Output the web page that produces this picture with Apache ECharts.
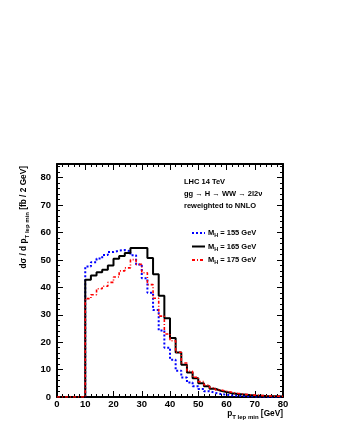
<!DOCTYPE html>
<html>
<head>
<meta charset="utf-8">
<script src="https://cdn.jsdelivr.net/npm/echarts@6/dist/echarts.min.js"></script>
<style>html,body{margin:0;padding:0;background:#fff}#c{width:340px;height:440px}</style>
</head>
<body>
<div id="c"></div>
<script>
// bin lower edges (GeV), bin width 2 GeV, histograms end at 80 GeV
const binEdges = [10,12,14,16,18,20,22,24,26,28,30,32,34,36,38,40,42,44,46,48,50,52,54,56,58,60,62,64,66,68,70,72,74,76,78];
const upperEdge = 80;
const seriesNames = ['M_H = 155 GeV', 'M_H = 165 GeV', 'M_H = 175 GeV'];
const mh155 = [47.6,49.2,50.5,51.8,52.9,53.4,53.6,53.2,51.7,48.3,43.3,38.0,31.7,24.3,18.0,13.6,9.6,7.1,5.3,3.9,2.9,2.1,1.5,1.1,0.8,0.6,0.45,0.35,0.28,0.22,0.18,0.14,0.11,0.09,0.07];
const mh165 = [42.8,44.3,45.5,46.4,48.0,50.4,51.4,52.5,54.4,54.4,54.4,50.7,44.8,36.9,28.7,21.5,16.2,11.8,8.9,6.8,5.0,3.9,3.0,2.3,1.8,1.4,1.1,0.9,0.7,0.55,0.45,0.35,0.3,0.25,0.2];
const mh175 = [35.9,37.3,39.5,40.4,41.8,43.8,46.0,47.1,50.1,48.4,45.3,41.0,36.0,29.5,23.0,20.5,16.3,12.4,9.4,7.2,5.6,4.4,3.4,2.6,2.1,1.7,1.35,1.05,0.85,0.7,0.55,0.45,0.37,0.3,0.25];
const xTicks = [0,10,20,30,40,50,60,70,80];
const yTicks = [0,10,20,30,40,50,60,70,80];

function histPoints(vals){
  const pts = [[0,0]];
  binEdges.forEach((e,i)=>pts.push([e, vals[i]]));
  pts.push([upperEdge, vals[vals.length-1]]);
  return pts;
}
const FONT = '"Liberation Sans", Arial, Helvetica, sans-serif';
const rich = {
  m:{fontSize:7.5, fontWeight:'bold', fontFamily:FONT, color:'#000', lineHeight:11, verticalAlign:'middle'},
  s:{fontSize:5.5, fontWeight:'bold', fontFamily:FONT, color:'#000', lineHeight:5, verticalAlign:'bottom'}
};
const richT = {
  m:{fontSize:8.3, fontWeight:'bold', fontFamily:FONT, color:'#000', lineHeight:12, verticalAlign:'middle'},
  s:{fontSize:6, fontWeight:'bold', fontFamily:FONT, color:'#000', lineHeight:5, verticalAlign:'bottom'}
};
function legendRich(name){
  const parts = name.split(' = ');
  return '{m|M}{s|H}{m| = ' + parts[1] + '}';
}

const axisCommon = (pos, showLabels, isX) => ({
  type:'value', position:pos, min:0, max: isX ? 80 : 85, interval:10,
  axisLine:{show:true, onZero:false, lineStyle:{color:'#000', width:2}},
  axisTick:{show:true, inside:true, length:6, lineStyle:{color:'#000', width:1}},
  minorTick:{show:true, splitNumber:5, length:3, lineStyle:{color:'#000', width:1}},
  splitLine:{show:false},
  axisLabel:{show:showLabels, color:'#000', fontSize:9.5, fontWeight:'bold', fontFamily:FONT, margin: isX?2:6,
    formatter: v => ((isX ? xTicks : yTicks).indexOf(v) >= 0 ? String(v) : '')}
});

const chart = echarts.init(document.getElementById('c'), null, {renderer:'canvas'});
chart.setOption({
  animation:false,
  backgroundColor:'#fff',
  grid:{left:57, right:57, top:164, bottom:43},
  xAxis:[axisCommon('bottom', true, true), axisCommon('top', false, true)],
  yAxis:[axisCommon('left', true, false), axisCommon('right', false, false)],
  legend:{
    orient:'vertical', left:191, top:229, padding:0, itemWidth:13, itemHeight:8, itemGap:4,
    data:seriesNames,
    itemStyle:{opacity:0},
    formatter: legendRich,
    textStyle:{rich:rich, padding:[0,0,0,-2]}
  },
  series:[
    {name:seriesNames[0], type:'line', step:'end', symbol:'none', data:histPoints(mh155),
     lineStyle:{color:'#0000ff', width:2, type:[2,2]}, itemStyle:{color:'#0000ff'}},
    {name:seriesNames[1], type:'line', step:'end', symbol:'none', data:histPoints(mh165),
     lineStyle:{color:'#000000', width:2, type:'solid'}, itemStyle:{color:'#000'}},
    {name:seriesNames[2], type:'line', step:'end', symbol:'none', data:histPoints(mh175),
     lineStyle:{color:'#ff0000', width:1.6, type:[3,2,1,2]}, itemStyle:{color:'#ff0000'}}
  ],
  graphic:[
    {type:'text', x:184, y:182, style:{text:'LHC 14 TeV', font:'bold 7.5px '+FONT, fill:'#000', verticalAlign:'middle'}},
    {type:'text', x:184, y:194, style:{text:'gg \u2192 H \u2192 WW \u2192 2l2\u03bd', font:'bold 7.5px '+FONT, fill:'#000', verticalAlign:'middle'}},
    {type:'text', x:184, y:206, style:{text:'reweighted to NNLO', font:'bold 7.5px '+FONT, fill:'#000', verticalAlign:'middle'}},
    {type:'text', x:283, y:414, style:{text:'{m|p}{s|T lep min}{m| [GeV]}', rich:richT, align:'right', verticalAlign:'middle'}},
    {type:'text', x:24, y:166, rotation:Math.PI/2, style:{text:'{m|d\u03c3 / d p}{s|T lep min}{m| [fb / 2 GeV]}', rich:richT, align:'right', verticalAlign:'middle'}}
  ]
});
</script>
</body>
</html>
